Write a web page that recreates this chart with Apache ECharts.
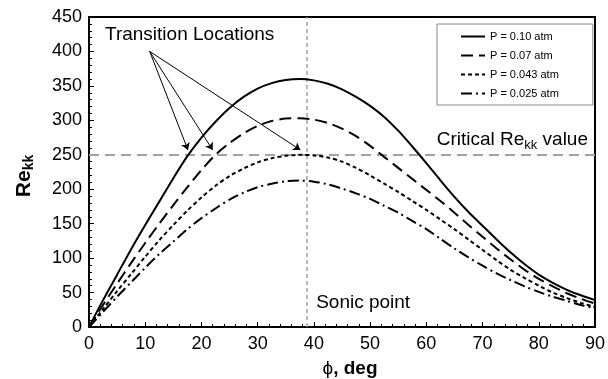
<!DOCTYPE html>
<html>
<head>
<meta charset="utf-8">
<title>Re_kk vs phi</title>
<script src="https://cdn.jsdelivr.net/npm/echarts@6/dist/echarts.min.js"></script>
<style>
  html, body { margin: 0; padding: 0; background: #fff; }
  #chart { width: 608px; height: 379px; }
</style>
</head>
<body>
<div id="chart"></div>
<script>
// Angle around the body (deg)
const phi = [0, 2.5, 5, 7.5, 10, 12.5, 15, 17.5, 20, 22.5, 25, 27.5, 30, 32.5, 35, 37.5,
             40, 42.5, 45, 47.5, 50, 52.5, 55, 57.5, 60, 62.5, 65, 67.5, 70, 72.5, 75,
             77.5, 80, 82.5, 85, 87.5, 90];

// Roughness Reynolds number Re_kk for each pressure
const re010 = [0, 39, 76, 113, 148, 182, 216, 248, 275, 298, 318, 334, 346, 354, 358.6, 360,
               358, 353, 345, 334, 321, 305, 285, 262, 238, 213, 189, 167, 147, 127, 108,
               91, 76, 64, 54, 46, 39];
const re007 = [0, 32, 63, 93, 122, 150, 177, 203, 228, 250, 267, 281, 292, 299, 302.5, 303,
               301, 296, 288, 277, 263, 247, 231, 215, 199, 183, 166, 148, 131, 114, 98,
               83, 70, 59, 49, 41, 34];
const re0043 = [0, 26, 52, 77, 102, 126, 148, 169, 188, 205, 219, 230, 239, 245, 248.5, 250,
                249, 246, 240, 231, 220, 208, 196, 183, 170, 156, 142, 127, 112, 97, 83,
                71, 60, 50, 42, 35, 29];
const re0025 = [0, 22, 44, 65, 86, 106, 124, 142, 158, 172, 185, 195, 203, 208, 211.5, 212.5,
                211, 207, 201, 194, 186, 176, 166, 154, 142, 128, 114, 101, 89, 78, 68,
                59, 51, 44, 38, 32, 27];

const seriesNames = ['P = 0.10 atm', 'P = 0.07 atm', 'P = 0.043 atm', 'P = 0.025 atm'];

// Reference lines
const criticalRe = 250;
const sonicPhi = 38.8;

// Arrows from the "Transition Locations" note to the crossings
const noteAnchor = [10.8, 400];
const transitionTargets = [[17.6, 257], [22.0, 257], [37.6, 257]];

const FONT = '"Liberation Sans", Arial, Helvetica, sans-serif';

function pairs(ys) { return phi.map((x, i) => [x, ys[i]]); }

const lineStyles = [
  { type: 'solid', width: 2 },
  { type: [12, 6], width: 2 },
  { type: [4, 3], width: 2 },
  { type: [11, 4, 2, 4], width: 2 }
];
const seriesData = [re010, re007, re0043, re0025];

const chart = echarts.init(document.getElementById('chart'), null, { renderer: 'canvas' });

const series = seriesData.map((ys, i) => ({
  name: seriesNames[i],
  type: 'line',
  data: pairs(ys),
  smooth: 0.3,
  symbol: 'none',
  z: 5,
  lineStyle: Object.assign({ color: '#000' }, lineStyles[i]),
  itemStyle: { color: '#000' }
}));

// Gray reference lines
series.push({
  name: 'ref',
  type: 'line',
  data: [],
  silent: true,
  markLine: {
    silent: true,
    symbol: ['none', 'none'],
    label: { show: false },
    animation: false,
    data: [
      { yAxis: criticalRe, lineStyle: { color: '#a3a3a3', width: 2, type: [10, 6] } },
      { xAxis: sonicPhi, lineStyle: { color: '#a3a3a3', width: 1.5, type: [4, 3] } }
    ]
  }
});
// Pointer arrows
series.push({
  name: 'arrows',
  type: 'line',
  data: [],
  silent: true,
  markLine: {
    silent: true,
    symbol: ['none', 'arrow'],
    symbolSize: 7,
    label: { show: false },
    animation: false,
    lineStyle: { color: '#000', width: 1, type: 'solid' },
    data: transitionTargets.map(t => [{ coord: noteAnchor }, { coord: t }])
  }
});

const option = {
  animation: false,
  backgroundColor: '#fff',
  textStyle: { fontFamily: FONT },
  grid: { left: 89, right: 11, top: 17, bottom: 52, show: true, borderColor: '#000', borderWidth: 2 },
  legend: {
    data: seriesNames,
    orient: 'vertical',
    left: 437,
    top: 24,
    padding: [7, 34, 6, 23],
    itemWidth: 24,
    itemHeight: 11,
    itemGap: 8,
    borderColor: '#888',
    borderWidth: 1,
    backgroundColor: '#fff',
    itemStyle: { opacity: 0 },
    textStyle: { fontFamily: FONT, fontSize: 11, color: '#000' },
    selectedMode: false
  },
  xAxis: {
    type: 'value',
    min: 0, max: 90, interval: 10,
    axisLine: { lineStyle: { color: '#000', width: 2 } },
    axisTick: { inside: true, length: 5, lineStyle: { color: '#000', width: 1 } },
    minorTick: { show: true, splitNumber: 5, length: 3, lineStyle: { color: '#000', width: 1 } },
    splitLine: { show: false },
    axisLabel: { fontFamily: FONT, fontSize: 18, color: '#000', margin: 8 }
  },
  yAxis: {
    type: 'value',
    min: 0, max: 450, interval: 50,
    axisLine: { show: true, lineStyle: { color: '#000', width: 2 } },
    axisTick: { show: true, inside: true, length: 5, lineStyle: { color: '#000', width: 1 } },
    minorTick: { show: true, splitNumber: 5, length: 3, lineStyle: { color: '#000', width: 1 } },
    splitLine: { show: false },
    axisLabel: { fontFamily: FONT, fontSize: 18, color: '#000', margin: 7 }
  },
  series: series
};

chart.setOption(option);

// Text notes anchored to the data coordinates
const pCrit = chart.convertToPixel({ gridIndex: 0 }, [90, criticalRe]);
const pSonic = chart.convertToPixel({ gridIndex: 0 }, [sonicPhi, 36]);

chart.setOption({
  graphic: [
    {
      type: 'text', left: 105, top: 25, z: 10,
      style: { text: 'Transition Locations', font: '19px ' + FONT, fill: '#000' }
    },
    {
      type: 'text', x: pCrit[0] - 7, y: pCrit[1] - 4, z: 10,
      style: {
        text: '{a|Critical Re}{s|kk}{a| value}',
        align: 'right', verticalAlign: 'bottom',
        rich: {
          a: { font: '19px ' + FONT, fill: '#000', lineHeight: 22 },
          s: { font: '13px ' + FONT, fill: '#000', lineHeight: 22, padding: [11, 0, 0, 0] }
        }
      }
    },
    {
      type: 'text', x: pSonic[0] + 9, y: pSonic[1] + 1, z: 10,
      style: { text: 'Sonic point', font: '19px ' + FONT, fill: '#000', verticalAlign: 'middle' }
    },
    {
      type: 'text', x: 350, y: 369, z: 10,
      style: {
        text: '{p|ϕ}{b|, deg}',
        align: 'center', verticalAlign: 'middle',
        rich: {
          p: { font: '19px ' + FONT, fill: '#000' },
          b: { font: 'bold 19px ' + FONT, fill: '#000' }
        }
      }
    },
    {
      type: 'text', x: 24, y: 176, rotation: Math.PI / 2, z: 10,
      style: {
        text: '{a|Re}{s|kk}',
        align: 'center', verticalAlign: 'middle',
        rich: {
          a: { font: 'bold 21px ' + FONT, fill: '#000', lineHeight: 24 },
          s: { font: 'bold 14px ' + FONT, fill: '#000', lineHeight: 24, padding: [10, 0, 0, 0] }
        }
      }
    }
  ]
});
</script>
</body>
</html>
